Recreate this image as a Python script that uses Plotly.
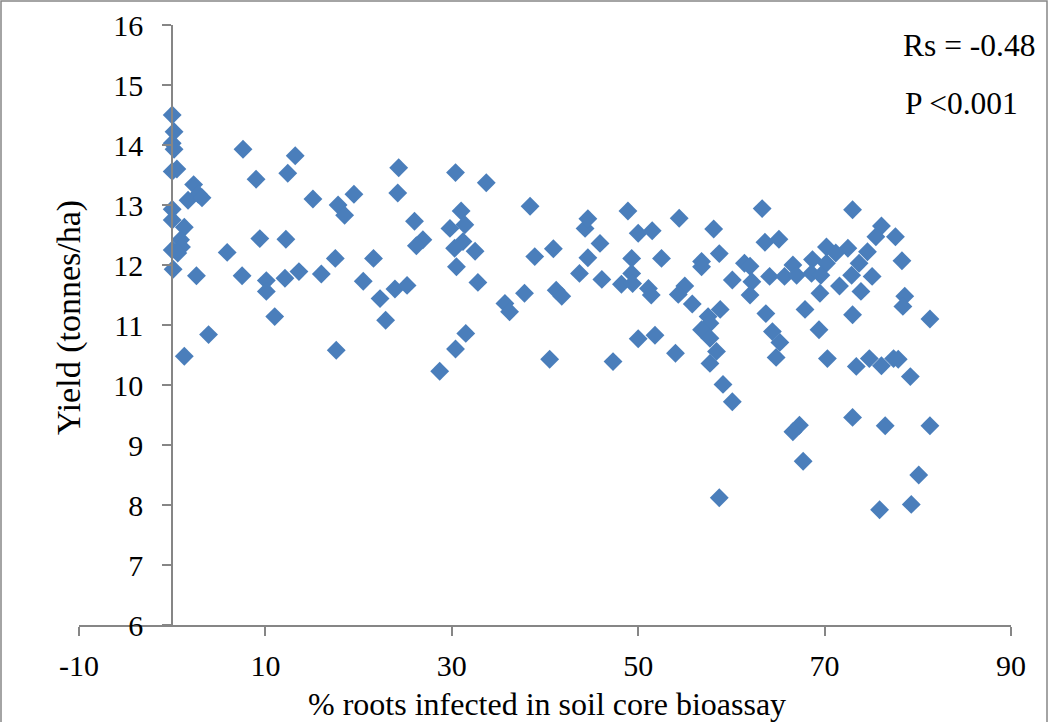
import plotly.graph_objects as go

# % roots infected in soil core bioassay
infection_pct = [
    0.0, 0.2, 0.0, 0.2, 0.0, 0.5, 7.6, 13.2, 12.4, 9.0, 2.3, 2.8, 1.7, 3.2, 15.1, 17.8, 18.5, 19.5,
    24.3, 24.2, 0.0, 0.0, 1.3, 0.9, 0.0, 1.0, 0.6, 0.1, 2.6, 5.9, 9.4, 12.2, 7.5, 10.1, 10.1, 12.1,
    13.6, 16.0, 17.5, 21.6, 20.5, 22.3, 22.9, 23.9, 11.0, 3.9, 1.3, 17.6,
    30.4, 33.7, 31.0, 26.0, 29.8, 31.4, 26.9, 26.2, 30.3, 31.2, 32.5, 30.5, 32.8, 38.4, 38.9, 40.9,
    25.2, 35.7, 36.2, 37.8, 41.2, 41.8, 43.7, 44.6, 44.3, 44.6, 45.9, 46.1, 48.9, 50.0, 49.3, 48.2,
    49.3, 49.4, 50.0, 31.5, 30.4, 28.7, 40.5, 47.3,
    54.4, 58.1, 51.5, 63.3, 63.6, 65.1, 52.5, 58.7, 56.8, 56.8, 61.4, 62.0, 60.1, 62.2, 62.0, 64.1,
    65.7, 66.6, 67.0, 68.7, 68.6, 70.2, 70.2, 69.6, 69.5, 51.1, 51.4, 55.0, 54.3, 55.8, 58.8, 57.5,
    57.7, 56.8, 57.7, 58.4, 57.7, 63.7, 64.4, 65.2, 64.8, 67.9, 69.4, 70.3, 51.8, 54.0, 59.1, 60.1,
    67.3, 66.6, 67.7, 58.7,
    73.0, 76.1, 75.5, 77.6, 74.6, 72.5, 73.7, 78.3, 72.9, 75.1, 71.6, 73.9, 78.6, 78.4, 73.0, 81.3,
    73.4, 74.8, 76.1, 77.4, 77.9, 79.2, 73.0, 76.5, 81.3, 80.1, 79.3, 75.9, 71.2,
]

# Yield (tonnes/ha)
yield_t_ha = [
    14.50, 14.22, 14.03, 13.93, 13.56, 13.60, 13.93, 13.82, 13.53, 13.43, 13.34, 13.18, 13.08, 13.12,
    13.10, 13.00, 12.83, 13.18, 13.62, 13.20, 12.93, 12.75, 12.63, 12.42, 12.25, 12.30, 12.20, 11.93,
    11.82, 12.21, 12.44, 12.43, 11.82, 11.74, 11.56, 11.78, 11.89, 11.85, 12.11, 12.11, 11.73, 11.44,
    11.08, 11.60, 11.14, 10.84, 10.48, 10.58,
    13.54, 13.37, 12.90, 12.73, 12.61, 12.67, 12.42, 12.32, 12.28, 12.39, 12.23, 11.97, 11.71, 12.98,
    12.14, 12.27, 11.66, 11.36, 11.22, 11.53, 11.58, 11.48, 11.86, 12.12, 12.61, 12.77, 12.36, 11.76,
    12.90, 12.53, 12.11, 11.68, 11.86, 11.69, 10.77, 10.86, 10.60, 10.23, 10.43, 10.39,
    12.78, 12.60, 12.57, 12.94, 12.38, 12.43, 12.11, 12.19, 12.06, 11.97, 12.03, 11.98, 11.75, 11.72,
    11.50, 11.81, 11.81, 12.00, 11.83, 12.09, 11.86, 12.30, 12.03, 11.83, 11.53, 11.61, 11.50, 11.65,
    11.51, 11.35, 11.26, 11.14, 11.03, 10.92, 10.78, 10.56, 10.36, 11.19, 10.89, 10.71, 10.46, 11.26,
    10.92, 10.44, 10.83, 10.53, 10.01, 9.72, 9.33, 9.22, 8.73, 8.12,
    12.92, 12.65, 12.47, 12.47, 12.22, 12.28, 12.03, 12.07, 11.83, 11.81, 11.65, 11.56, 11.48, 11.31,
    11.17, 11.10, 10.31, 10.44, 10.32, 10.44, 10.43, 10.14, 9.46, 9.32, 9.32, 8.50, 8.01, 7.92, 12.20,
]

x_ticks = [-10, 10, 30, 50, 70, 90]
y_ticks = [6, 7, 8, 9, 10, 11, 12, 13, 14, 15, 16]

FONT = "Liberation Serif, Times New Roman, serif"
AXIS_GRAY = "#868686"
FS = 30

fig = go.Figure()
fig.add_trace(go.Scatter(
    x=infection_pct, y=yield_t_ha, mode="markers",
    marker=dict(symbol="diamond", size=14.5, color="#4A7EBB", line=dict(width=0)),
    showlegend=False, hoverinfo="x+y",
))

fig.update_layout(
    width=1049, height=722,
    margin=dict(l=79, r=38, t=25, b=97, autoexpand=False),
    paper_bgcolor="white", plot_bgcolor="white",
    font=dict(family=FONT, size=FS, color="black"),
    xaxis=dict(
        range=[-10, 90], tickvals=x_ticks, ticktext=[str(v) for v in x_ticks],
        automargin=False,
        showgrid=False, zeroline=False, showline=True, linecolor=AXIS_GRAY, linewidth=2,
        ticks="outside", ticklen=9, tickwidth=2, tickcolor=AXIS_GRAY,
        tickfont=dict(family=FONT, size=FS, color="black"), ticklabelstandoff=4,
    ),
    yaxis=dict(
        range=[6, 16], tickvals=y_ticks, ticktext=[str(v) for v in y_ticks],
        anchor="free", position=0.1, automargin=False,
        showgrid=False, zeroline=False, showline=True, linecolor=AXIS_GRAY, linewidth=2,
        ticks="outside", ticklen=9, tickwidth=2, tickcolor=AXIS_GRAY,
        tickfont=dict(family=FONT, size=FS, color="black"), ticklabelstandoff=13,
    ),
    shapes=[dict(
        type="rect", xref="paper", yref="paper",
        x0=(1 - 79) / 932, x1=(1047 - 79) / 932, y0=(625 - 723) / 600, y1=(625 - 1) / 600,
        line=dict(color=AXIS_GRAY, width=1.5), fillcolor="rgba(0,0,0,0)", layer="below",
    )],
    annotations=[
        dict(text="Yield (tonnes/ha)", xref="paper", yref="paper",
             x=(69 - 79) / 932, y=(625 - 318) / 600, textangle=-90, showarrow=False,
             xanchor="center", yanchor="middle", font=dict(family=FONT, size=34, color="black")),
        dict(text="% roots infected in soil core bioassay", xref="paper", yref="paper",
             x=(547 - 79) / 932, y=(625 - 704) / 600, showarrow=False,
             xanchor="center", yanchor="middle", font=dict(family=FONT, size=32, color="black")),
        dict(text="Rs = -0.48", xref="paper", yref="paper",
             x=(901 - 79) / 932, y=(625 - 45) / 600, showarrow=False,
             xanchor="left", yanchor="middle", font=dict(family=FONT, size=31.5, color="black")),
        dict(text="P <0.001", xref="paper", yref="paper",
             x=(903 - 79) / 932, y=(625 - 103) / 600, showarrow=False,
             xanchor="left", yanchor="middle", font=dict(family=FONT, size=31.5, color="black")),
    ],
)

fig.write_html("out.html", config={"displayModeBar": False},
               post_script="document.body.style.margin='0px';")
